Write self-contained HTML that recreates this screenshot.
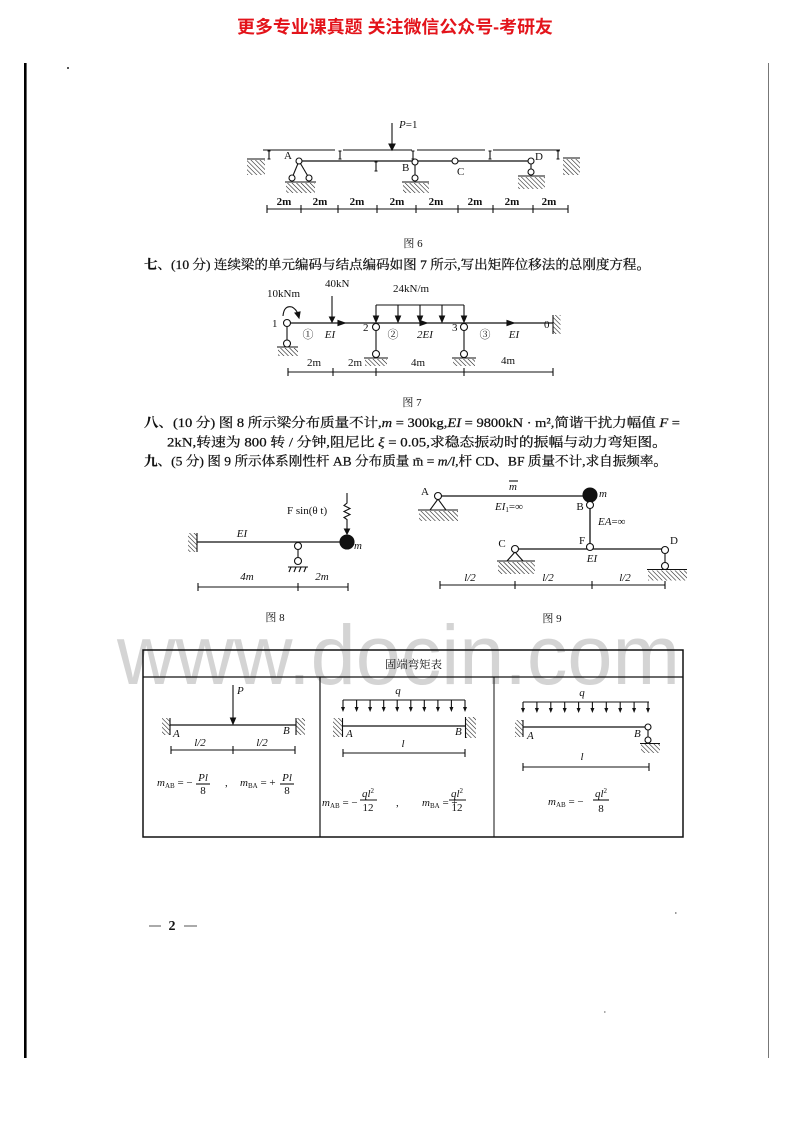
<!DOCTYPE html>
<html><head><meta charset="utf-8"><style>
html,body{margin:0;padding:0;background:#fff;}
svg{display:block;}
.t{font-family:"Liberation Serif","Noto Serif CJK SC",serif;font-size:13px;fill:#111;stroke:#111;stroke-width:0.25;}
.f{font-family:"Liberation Serif","Noto Serif CJK SC",serif;font-size:11px;fill:#111;stroke:none;}
.i{font-style:italic;}
.sm{font-size:7px;}
</style></head><body>
<svg width="792" height="1122" viewBox="0 0 792 1122" xmlns="http://www.w3.org/2000/svg">
<defs>
<pattern id="h" width="3.2" height="3.2" patternUnits="userSpaceOnUse" patternTransform="rotate(-45)"><line x1="0" y1="0" x2="0" y2="3.2" stroke="#111" stroke-width="1.1"/></pattern>
</defs>
<rect width="792" height="1122" fill="#fff"/>

<!-- header -->
<text x="237" y="33" font-family="'Liberation Sans','Noto Sans CJK SC',sans-serif" font-size="17.5" font-weight="bold" fill="#e3141b" textLength="316" lengthAdjust="spacingAndGlyphs">更多专业课真题 关注微信公众号-考研友</text>

<!-- page borders -->
<rect x="24" y="63" width="2.6" height="995" fill="#000"/>
<line x1="768.5" y1="63" x2="768.5" y2="1058" stroke="#777" stroke-width="1"/>
<rect x="67" y="67" width="2" height="2" fill="#555"/>

<!-- watermark -->
<text x="117" y="684" font-family="'Liberation Sans',sans-serif" font-size="84" fill="#d4d4d4" textLength="563" lengthAdjust="spacingAndGlyphs">www.docin.com</text>

<!-- ================= FIG 6 ================= -->
<g stroke="#111" fill="none" stroke-width="1.1">
  <line x1="392" y1="123" x2="392" y2="145"/>
  <polygon points="389,144 395,144 392,150" fill="#111"/>
  <line x1="263" y1="150" x2="335" y2="150"/>
  <line x1="343" y1="150" x2="412" y2="150"/>
  <line x1="417" y1="150" x2="485" y2="150"/>
  <line x1="493" y1="150" x2="560" y2="150"/>
  <path d="M267.5,151h3M269,151v8M267.5,159h3 M338.5,151h3M340,151v8M338.5,159h3 M411.5,151h3M413,151v8M411.5,159h3 M488.5,151h3M490,151v8M488.5,159h3 M556.5,151h3M558,151v8M556.5,159h3 M374.5,162h3M376,162v9M374.5,171h3"/>
  <line x1="299" y1="161" x2="531" y2="161" stroke-width="1.3"/>
  <line x1="247" y1="159" x2="265" y2="159"/>
  <rect x="247" y="160" width="18" height="15" fill="url(#h)" stroke="none"/>
  <line x1="563" y1="158" x2="580" y2="158"/>
  <rect x="563" y="159" width="17" height="16" fill="url(#h)" stroke="none"/>
  <line x1="299" y1="161" x2="292" y2="178"/>
  <line x1="299" y1="161" x2="309" y2="178"/>
  <circle cx="299" cy="161" r="3" fill="#fff"/>
  <circle cx="292" cy="178" r="3" fill="#fff"/>
  <circle cx="309" cy="178" r="3" fill="#fff"/>
  <line x1="285" y1="182" x2="316" y2="182"/>
  <rect x="286" y="183" width="29" height="10" fill="url(#h)" stroke="none"/>
  <line x1="415" y1="165" x2="415" y2="175"/>
  <circle cx="415" cy="162" r="3" fill="#fff"/>
  <circle cx="415" cy="178" r="3" fill="#fff"/>
  <line x1="402" y1="182" x2="429" y2="182"/>
  <rect x="403" y="183" width="26" height="10" fill="url(#h)" stroke="none"/>
  <circle cx="455" cy="161" r="3" fill="#fff"/>
  <line x1="531" y1="164" x2="531" y2="169"/>
  <circle cx="531" cy="161" r="3" fill="#fff"/>
  <circle cx="531" cy="172" r="3" fill="#fff"/>
  <line x1="518" y1="176" x2="545" y2="176"/>
  <rect x="518" y="177" width="27" height="12" fill="url(#h)" stroke="none"/>
  <line x1="267" y1="209" x2="568" y2="209"/>
  <path d="M267,205v8M301,205v8M338,205v8M377,205v8M416,205v8M458,205v8M493,205v8M533,205v8M568,205v8"/>
</g>
<text class="f" x="399" y="128"><tspan class="i">P</tspan>=1</text>
<text class="f" x="284" y="159">A</text>
<text class="f" x="402" y="171">B</text>
<text class="f" x="457" y="175">C</text>
<text class="f" x="535" y="160">D</text>
<g class="f" text-anchor="middle" font-weight="bold">
  <text x="284" y="205">2m</text><text x="320" y="205">2m</text><text x="357" y="205">2m</text><text x="397" y="205">2m</text>
  <text x="436" y="205">2m</text><text x="475" y="205">2m</text><text x="512" y="205">2m</text><text x="549" y="205">2m</text>
</g>
<text class="f" x="413" y="247" text-anchor="middle">图 6</text>

<!-- 七 -->
<text class="t" x="144" y="269" textLength="506" lengthAdjust="spacingAndGlyphs"><tspan font-weight="bold">七</tspan>、(10 分) 连续梁的单元编码与结点编码如图 7 所示,写出矩阵位移法的总刚度方程。</text>

<!-- ================= FIG 7 ================= -->
<g stroke="#111" fill="none" stroke-width="1.1">
  <path d="M283,316 Q284,305 292,307 Q296,309 298,314"/>
  <polygon points="295,313 300,312 299,318" fill="#111"/>
  <line x1="332" y1="296" x2="332" y2="318"/>
  <polygon points="329.5,317 334.5,317 332,322" fill="#111"/>
  <line x1="376" y1="305" x2="464" y2="305"/>
  <path d="M376,305v12M398,305v12M420,305v12M442,305v12M464,305v12"/>
  <polygon points="373.5,316 378.5,316 376,322" fill="#111"/>
  <polygon points="395.5,316 400.5,316 398,322" fill="#111"/>
  <polygon points="417.5,316 422.5,316 420,322" fill="#111"/>
  <polygon points="439.5,316 444.5,316 442,322" fill="#111"/>
  <polygon points="461.5,316 466.5,316 464,322" fill="#111"/>
  <line x1="287" y1="323" x2="553" y2="323" stroke-width="1.3"/>
  <polygon points="338,320.5 345,323 338,325.5" fill="#111"/>
  <polygon points="420,320.5 427,323 420,325.5" fill="#111"/>
  <polygon points="507,320.5 514,323 507,325.5" fill="#111"/>
  <line x1="287" y1="326" x2="287" y2="340"/>
  <circle cx="287" cy="323" r="3.5" fill="#fff"/>
  <circle cx="287" cy="343.5" r="3.5" fill="#fff"/>
  <line x1="277" y1="347" x2="298" y2="347"/>
  <rect x="278" y="348" width="20" height="8" fill="url(#h)" stroke="none"/>
  <line x1="376" y1="330" x2="376" y2="350"/>
  <circle cx="376" cy="327" r="3.5" fill="#fff"/>
  <circle cx="376" cy="354" r="3.5" fill="#fff"/>
  <line x1="364" y1="358" x2="388" y2="358"/>
  <rect x="365" y="359" width="22" height="7" fill="url(#h)" stroke="none"/>
  <line x1="464" y1="330" x2="464" y2="350"/>
  <circle cx="464" cy="327" r="3.5" fill="#fff"/>
  <circle cx="464" cy="354" r="3.5" fill="#fff"/>
  <line x1="452" y1="358" x2="476" y2="358"/>
  <rect x="453" y="359" width="22" height="7" fill="url(#h)" stroke="none"/>
  <line x1="553" y1="315" x2="553" y2="334"/>
  <rect x="553.5" y="315" width="7" height="19" fill="url(#h)" stroke="none"/>
  <line x1="288" y1="372" x2="553" y2="372"/>
  <path d="M288,368v8M333,368v8M376,368v8M464,368v8M553,368v8"/>
</g>
<text class="f" x="267" y="297">10kNm</text>
<text class="f" x="325" y="287">40kN</text>
<text class="f" x="393" y="292">24kN/m</text>
<text class="f" x="272" y="327">1</text>
<text class="f" x="363" y="331">2</text>
<text class="f" x="452" y="331">3</text>
<text class="f" x="544" y="328">0</text>
<g class="f" text-anchor="middle">
  <text x="308" y="338">①</text><text x="330" y="338" class="i">EI</text>
  <text x="393" y="338">②</text><text x="425" y="338" class="i">2EI</text>
  <text x="485" y="338">③</text><text x="514" y="338" class="i">EI</text>
  <text x="314" y="366">2m</text><text x="355" y="366">2m</text><text x="418" y="366">4m</text><text x="508" y="364">4m</text>
</g>
<text class="f" x="412" y="406" text-anchor="middle">图 7</text>

<!-- 八 / 九 -->
<text class="t" x="144" y="427" textLength="536" lengthAdjust="spacingAndGlyphs"><tspan font-weight="bold">八</tspan>、(10 分) 图 8 所示梁分布质量不计,<tspan font-style="italic">m</tspan> = 300kg,<tspan font-style="italic">EI</tspan> = 9800kN · m²,简谐干扰力幅值 <tspan font-style="italic">F</tspan> =</text>
<text class="t" x="167" y="446.5" textLength="500" lengthAdjust="spacingAndGlyphs">2kN,转速为 800 转 / 分钟,阻尼比 <tspan font-style="italic">ξ</tspan> = 0.05,求稳态振动时的振幅与动力弯矩图。</text>
<text class="t" x="144" y="465.5" textLength="523" lengthAdjust="spacingAndGlyphs"><tspan font-weight="bold">九</tspan>、(5 分) 图 9 所示体系刚性杆 AB 分布质量 m̄ = <tspan font-style="italic">m/l</tspan>,杆 CD、BF 质量不计,求自振频率。</text>

<!-- ================= FIG 8 ================= -->
<g stroke="#111" fill="none" stroke-width="1.1">
  <line x1="197" y1="533" x2="197" y2="552"/>
  <rect x="188" y="533" width="8.5" height="19" fill="url(#h)" stroke="none"/>
  <line x1="197" y1="542" x2="347" y2="542" stroke-width="1.3"/>
  <line x1="298" y1="549.5" x2="298" y2="557.5"/>
  <circle cx="298" cy="546" r="3.5" fill="#fff"/>
  <circle cx="298" cy="561" r="3.5" fill="#fff"/>
  <line x1="288" y1="567" x2="308" y2="567"/>
  <path d="M289,572l2,-5M294,572l2,-5M299,572l2,-5M304,572l2,-5"/>
  <circle cx="347" cy="542" r="7" fill="#111"/>
  <path d="M347,493v10l-3,2.5l6,3l-6,3l6,3l-6,3l3,2v9"/>
  <polygon points="344.5,529 349.5,529 347,534" fill="#111"/>
  <line x1="198" y1="587" x2="348" y2="587"/>
  <path d="M198,583v8M298,583v8M348,583v8"/>
</g>
<text class="f" x="287" y="514">F sin(θ t)</text>
<text class="f i" x="242" y="537" text-anchor="middle">EI</text>
<text class="f i" x="354" y="549">m</text>
<text class="f i" x="247" y="580" text-anchor="middle">4m</text>
<text class="f i" x="322" y="580" text-anchor="middle">2m</text>
<text class="f" x="275" y="621" text-anchor="middle">图 8</text>

<!-- ================= FIG 9 ================= -->
<g stroke="#111" fill="none" stroke-width="1.1">
  <polygon points="438,499 430,510 446,510" fill="#fff"/>
  <line x1="418" y1="510" x2="458" y2="510"/>
  <rect x="419" y="511" width="39" height="10" fill="url(#h)" stroke="none"/>
  <line x1="438" y1="496" x2="590" y2="496" stroke-width="1.3"/>
  <circle cx="438" cy="496" r="3.5" fill="#fff"/>
  <line x1="509" y1="481" x2="518" y2="481"/>
  <line x1="590" y1="508.5" x2="590" y2="543.5" stroke-width="1.3"/>
  <circle cx="590" cy="495" r="7" fill="#111"/>
  <circle cx="590" cy="505" r="3.5" fill="#fff"/>
  <line x1="515" y1="549" x2="665" y2="549" stroke-width="1.3"/>
  <circle cx="590" cy="547" r="3.5" fill="#fff"/>
  <polygon points="515,552 507,561 523,561" fill="#fff"/>
  <line x1="497" y1="561" x2="535" y2="561"/>
  <rect x="498" y="562" width="37" height="12" fill="url(#h)" stroke="none"/>
  <circle cx="515" cy="549" r="3.5" fill="#fff"/>
  <line x1="665" y1="553.5" x2="665" y2="562.5"/>
  <circle cx="665" cy="550" r="3.5" fill="#fff"/>
  <circle cx="665" cy="566" r="3.5" fill="#fff"/>
  <line x1="647" y1="569.5" x2="687" y2="569.5"/>
  <rect x="648" y="570.5" width="39" height="10" fill="url(#h)" stroke="none"/>
  <line x1="440" y1="585" x2="665" y2="585"/>
  <path d="M440,581v8M515,581v8M592,581v8M665,581v8"/>
</g>
<text class="f" x="425" y="495" text-anchor="middle">A</text>
<text class="f i" x="513" y="490" text-anchor="middle">m</text>
<text class="f" x="495" y="510"><tspan class="i">EI</tspan><tspan class="sm" dy="2">1</tspan><tspan dy="-2">=∞</tspan></text>
<text class="f i" x="599" y="497">m</text>
<text class="f" x="580" y="510" text-anchor="middle">B</text>
<text class="f" x="598" y="525"><tspan class="i">EA</tspan>=∞</text>
<text class="f" x="582" y="544" text-anchor="middle">F</text>
<text class="f" x="502" y="547" text-anchor="middle">C</text>
<text class="f" x="674" y="544" text-anchor="middle">D</text>
<text class="f i" x="592" y="562" text-anchor="middle">EI</text>
<text class="f i" x="470" y="581" text-anchor="middle">l/2</text>
<text class="f i" x="548" y="581" text-anchor="middle">l/2</text>
<text class="f i" x="625" y="581" text-anchor="middle">l/2</text>
<text class="f" x="552" y="622" text-anchor="middle">图 9</text>

<!-- ================= TABLE ================= -->
<g stroke="#111" fill="none">
  <rect x="143" y="650" width="540" height="187" stroke-width="1.5"/>
  <line x1="143" y1="677" x2="683" y2="677" stroke-width="1.2"/>
  <line x1="320" y1="677" x2="320" y2="837" stroke-width="1.2"/>
  <line x1="494" y1="677" x2="494" y2="837" stroke-width="1"/>
</g>
<text class="f" x="385" y="668" font-size="12" textLength="57" lengthAdjust="spacingAndGlyphs">固端弯矩表</text>

<!-- cell 1 -->
<g stroke="#111" fill="none" stroke-width="1.1">
  <line x1="233" y1="685" x2="233" y2="719"/>
  <polygon points="230.5,718 235.5,718 233,724" fill="#111"/>
  <line x1="170" y1="725" x2="296" y2="725" stroke-width="1.3"/>
  <line x1="170" y1="718" x2="170" y2="735"/>
  <rect x="162" y="718" width="7.5" height="17" fill="url(#h)" stroke="none"/>
  <line x1="296" y1="718" x2="296" y2="735"/>
  <rect x="296.5" y="718" width="8.5" height="17" fill="url(#h)" stroke="none"/>
  <line x1="171" y1="750" x2="295" y2="750"/>
  <path d="M171,746v8M233,746v8M295,746v8"/>
  <line x1="196" y1="784" x2="210" y2="784"/>
  <line x1="280" y1="784" x2="294" y2="784"/>
</g>
<text class="f i" x="237" y="694">P</text>
<text class="f i" x="173" y="737">A</text>
<text class="f i" x="283" y="734">B</text>
<text class="f i" x="200" y="746" text-anchor="middle">l/2</text>
<text class="f i" x="262" y="746" text-anchor="middle">l/2</text>
<text class="f" x="157" y="786"><tspan class="i">m</tspan><tspan class="sm" dy="2">AB</tspan><tspan dy="-2"> = −</tspan></text>
<text class="f i" x="203" y="781" text-anchor="middle">Pl</text>
<text class="f" x="203" y="794" text-anchor="middle">8</text>
<text class="f" x="225" y="786">,</text>
<text class="f" x="240" y="786"><tspan class="i">m</tspan><tspan class="sm" dy="2">BA</tspan><tspan dy="-2"> = +</tspan></text>
<text class="f i" x="287" y="781" text-anchor="middle">Pl</text>
<text class="f" x="287" y="794" text-anchor="middle">8</text>

<!-- cell 2 -->
<g stroke="#111" fill="none" stroke-width="1.1">
  <line x1="343" y1="700" x2="465" y2="700"/>
  <path d="M343,700v8M356.6,700v8M370.1,700v8M383.7,700v8M397.2,700v8M410.8,700v8M424.3,700v8M437.9,700v8M451.4,700v8M465,700v8"/>
  <g fill="#111" stroke="none">
    <polygon points="341,707 345,707 343,712"/><polygon points="354.6,707 358.6,707 356.6,712"/>
    <polygon points="368.1,707 372.1,707 370.1,712"/><polygon points="381.7,707 385.7,707 383.7,712"/>
    <polygon points="395.2,707 399.2,707 397.2,712"/><polygon points="408.8,707 412.8,707 410.8,712"/>
    <polygon points="422.3,707 426.3,707 424.3,712"/><polygon points="435.9,707 439.9,707 437.9,712"/>
    <polygon points="449.4,707 453.4,707 451.4,712"/><polygon points="463,707 467,707 465,712"/>
  </g>
  <line x1="343" y1="726" x2="465" y2="726" stroke-width="1.3"/>
  <line x1="342.5" y1="718" x2="342.5" y2="737"/>
  <rect x="333" y="718" width="9" height="19" fill="url(#h)" stroke="none"/>
  <line x1="465.5" y1="717" x2="465.5" y2="738"/>
  <rect x="466" y="717" width="10" height="21" fill="url(#h)" stroke="none"/>
  <line x1="343" y1="753" x2="465" y2="753"/>
  <path d="M343,749v8M465,749v8"/>
  <line x1="360" y1="800" x2="377" y2="800"/>
  <line x1="449" y1="800" x2="466" y2="800"/>
</g>
<text class="f i" x="398" y="694" text-anchor="middle">q</text>
<text class="f i" x="346" y="737">A</text>
<text class="f i" x="455" y="735">B</text>
<text class="f i" x="403" y="747" text-anchor="middle">l</text>
<text class="f" x="322" y="806"><tspan class="i">m</tspan><tspan class="sm" dy="2">AB</tspan><tspan dy="-2"> = −</tspan></text>
<text class="f" x="368" y="797" text-anchor="middle"><tspan class="i">ql</tspan><tspan class="sm" dy="-4">2</tspan></text>
<text class="f" x="368" y="811" text-anchor="middle">12</text>
<text class="f" x="396" y="806">,</text>
<text class="f" x="422" y="806"><tspan class="i">m</tspan><tspan class="sm" dy="2">BA</tspan><tspan dy="-2"> = +</tspan></text>
<text class="f" x="457" y="797" text-anchor="middle"><tspan class="i">ql</tspan><tspan class="sm" dy="-4">2</tspan></text>
<text class="f" x="457" y="811" text-anchor="middle">12</text>

<!-- cell 3 -->
<g stroke="#111" fill="none" stroke-width="1.1">
  <line x1="523" y1="702" x2="649" y2="702"/>
  <path d="M523,702v7M536.9,702v7M550.8,702v7M564.7,702v7M578.6,702v7M592.4,702v7M606.3,702v7M620.2,702v7M634.1,702v7M648,702v7"/>
  <g fill="#111" stroke="none">
    <polygon points="521,708 525,708 523,713"/><polygon points="534.9,708 538.9,708 536.9,713"/>
    <polygon points="548.8,708 552.8,708 550.8,713"/><polygon points="562.7,708 566.7,708 564.7,713"/>
    <polygon points="576.6,708 580.6,708 578.6,713"/><polygon points="590.4,708 594.4,708 592.4,713"/>
    <polygon points="604.3,708 608.3,708 606.3,713"/><polygon points="618.2,708 622.2,708 620.2,713"/>
    <polygon points="632.1,708 636.1,708 634.1,713"/><polygon points="646,708 650,708 648,713"/>
  </g>
  <line x1="523" y1="727" x2="648" y2="727" stroke-width="1.3"/>
  <line x1="523" y1="720" x2="523" y2="737"/>
  <rect x="515" y="720" width="7.5" height="17" fill="url(#h)" stroke="none"/>
  <line x1="648" y1="730" x2="648" y2="737"/>
  <circle cx="648" cy="727" r="3" fill="#fff"/>
  <circle cx="648" cy="740" r="3" fill="#fff"/>
  <line x1="640" y1="743.5" x2="660" y2="743.5"/>
  <rect x="641" y="744" width="19" height="9" fill="url(#h)" stroke="none"/>
  <line x1="523" y1="767" x2="649" y2="767"/>
  <path d="M523,763v8M649,763v8"/>
  <line x1="593" y1="800" x2="609" y2="800"/>
</g>
<text class="f i" x="582" y="696" text-anchor="middle">q</text>
<text class="f i" x="527" y="739">A</text>
<text class="f i" x="634" y="737">B</text>
<text class="f i" x="582" y="760" text-anchor="middle">l</text>
<text class="f" x="548" y="805"><tspan class="i">m</tspan><tspan class="sm" dy="2">AB</tspan><tspan dy="-2"> = −</tspan></text>
<text class="f" x="601" y="797" text-anchor="middle"><tspan class="i">ql</tspan><tspan class="sm" dy="-4">2</tspan></text>
<text class="f" x="601" y="812" text-anchor="middle">8</text>

<!-- page number -->
<line x1="149" y1="926" x2="161" y2="926" stroke="#555" stroke-width="1"/>
<text x="172" y="930" font-family="'Liberation Serif',serif" font-size="14" font-weight="bold" fill="#111" text-anchor="middle">2</text>
<line x1="184" y1="926" x2="197" y2="926" stroke="#555" stroke-width="1"/>
<rect x="675" y="912" width="1.5" height="2" fill="#999"/>
<rect x="604" y="1011" width="1.5" height="2" fill="#aaa"/>
</svg>
</body></html>
